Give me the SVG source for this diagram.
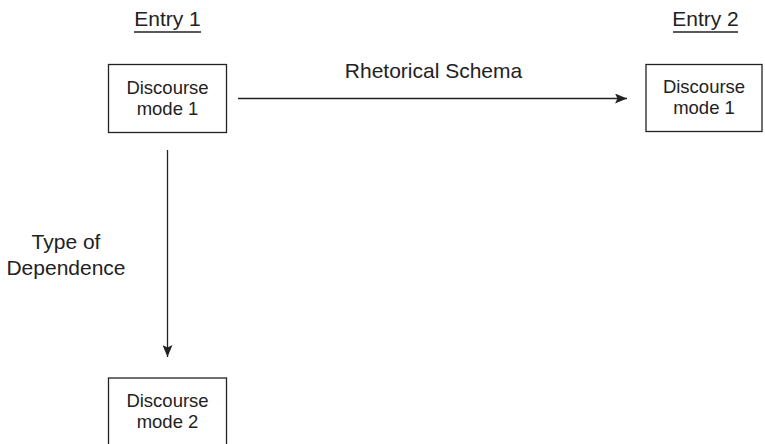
<svg xmlns="http://www.w3.org/2000/svg" width="765" height="444" viewBox="0 0 765 444">
<defs>
<style>
.box{fill:#fff;stroke:#222;stroke-width:1.3}
.t{font-family:"Liberation Sans",Arial,sans-serif;fill:#222;text-anchor:middle}
.bt{font-size:18.5px}
.lb{font-size:21px}
.ln{stroke:#222;stroke-width:1.3;fill:none}
</style>
<marker id="ah" markerWidth="13" markerHeight="10" refX="12" refY="5" orient="auto" markerUnits="userSpaceOnUse">
<path d="M0,0 L12,5 L0,10 L2.5,5 Z" fill="#222"/>
</marker>
</defs>
<g id="entry1">
<text class="t lb" x="167.5" y="26">Entry 1</text>
<line class="ln" x1="134" y1="32" x2="201" y2="32"/>
</g>
<g id="entry2">
<text class="t lb" x="705.5" y="26">Entry 2</text>
<line class="ln" x1="673" y1="32" x2="738" y2="32"/>
</g>
<g id="node-e1-dm1">
<rect class="box" x="108.5" y="64.5" width="118" height="68"/>
<text class="t bt" x="167.5" y="93.5">Discourse</text>
<text class="t bt" x="167.5" y="114.5">mode 1</text>
</g>
<g id="node-e2-dm1">
<rect class="box" x="646" y="64.5" width="116" height="67"/>
<text class="t bt" x="704" y="93">Discourse</text>
<text class="t bt" x="704" y="114">mode 1</text>
</g>
<g id="node-e1-dm2">
<rect class="box" x="108.5" y="378" width="118" height="70"/>
<text class="t bt" x="167.5" y="406.5">Discourse</text>
<text class="t bt" x="167.5" y="427.5">mode 2</text>
</g>
<g id="connectors">
<line class="ln" x1="238" y1="98.5" x2="627" y2="98.5" marker-end="url(#ah)"/>
<line class="ln" x1="167.5" y1="150" x2="167.5" y2="357" marker-end="url(#ah)"/>
</g>
<g id="labels">
<text class="t lb" x="433.5" y="77.5">Rhetorical Schema</text>
<text class="t lb" x="66" y="249">Type of</text>
<text class="t lb" x="66" y="275">Dependence</text>
</g>
</svg>
